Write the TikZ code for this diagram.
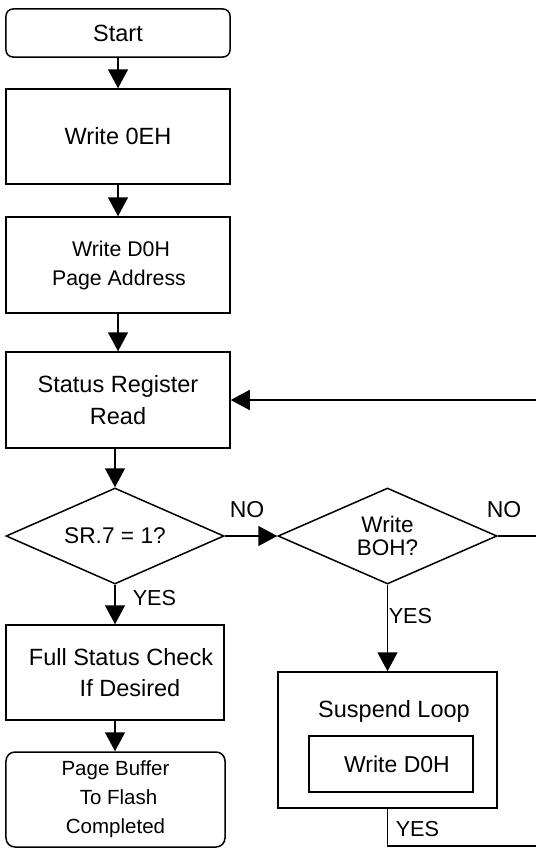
\documentclass[tikz,border=0pt]{standalone}
\usepackage{fontspec}
\setmainfont{Liberation Sans}
\usetikzlibrary{arrows.meta,shapes.geometric,calc}
\newcommand\myfs[2]{\fontsize{#1bp}{#2bp}\selectfont}
\begin{document}
\begin{tikzpicture}[x=1bp,y=-1bp, line width=1.5bp,
  box/.style={draw, rectangle, inner sep=0pt, align=center},
  term/.style={box, rounded corners=7bp},
  dec/.style={draw, diamond, aspect=2.28, inner sep=0pt, align=center, minimum width=218bp, minimum height=96bp},
  flow/.style={-{Triangle[width=20bp,length=19bp]}},
  lbl/.style={inner sep=0pt, font=\myfs{23}{27}},
]
\useasboundingbox (0,0) rectangle (536,848);
\clip (0,0) rectangle (536,848);

% left column
\node[term, minimum width=224bp, minimum height=48bp, font=\myfs{23.5}{28}] (start) at (118,33) {Start};
\node[box, minimum width=224bp, minimum height=95bp, font=\myfs{23.5}{28}] (w0e) at (118,136.5) {Write 0EH};
\node[box, minimum width=224bp, minimum height=96bp, font=\myfs{21.3}{29}] (w0d) at (118,265) {\hspace*{6bp}Write D0H\\\hspace*{2bp}Page Address};
\node[box, minimum width=224bp, minimum height=96bp, font=\myfs{23.5}{32}] (sr) at (118,400) {Status Register\\Read};
\node[dec, font=\myfs{22.7}{27}] (d1) at (115,536) {SR.7 = 1?};
\node[box, minimum width=218bp, minimum height=95bp, font=\myfs{23.5}{31}] (fsc) at (115,672.5) {\hspace*{12bp}Full Status Check\\\hspace*{30bp}If Desired};
\node[term, rounded corners=9bp, minimum width=219bp, minimum height=95bp, font=\myfs{20.5}{29}] (pb) at (115.5,799.5) {Page Buffer\\\hspace*{6bp}To Flash\\Completed};

% right column
\node[dec, minimum width=219bp, font=\myfs{22.5}{23}] (d2) at (387.5,536) {Write\\BOH?};
\node[box, minimum width=219bp, minimum height=136bp] (susp) at (387.5,740) {};
\node[inner sep=0pt, font=\myfs{23.5}{28}] (suspt) at (394,711) {Suspend Loop};
\node[box, minimum width=164bp, minimum height=56bp, font=\myfs{23}{28}] (wd) at (391,764) {\hspace*{12bp}Write D0H};

% off-page loop corners
\coordinate (bot) at (548,846);
\coordinate (rtop) at (548,400);

% connectors
\draw[flow] (start) -- (w0e);
\draw[flow] (w0e) -- (w0d);
\draw[flow] (w0d) -- (sr);
\draw[flow] (sr.south -| d1.north) -- (d1.north);
\draw[flow] (d1.east) -- (d2.west);
\draw[flow] (d1.south) -- (fsc.north);
\draw[flow] (fsc.south) -- (fsc.south |- pb.north);
\draw[flow] (d2.south) -- (susp.north);
\draw[flow] (susp.south) |- (bot) -- (rtop) -- (sr.east);
\draw (d2.east) -- (d2.east -| bot);

% labels
\node[lbl] (no1) at (247,510) {NO};
\node[lbl] (no2) at (504,510) {NO};
\node[lbl, font=\myfs{21.7}{26}, anchor=west] (yes1) at (132,598) {YES};
\node[lbl, font=\myfs{21.7}{26}, anchor=west] (yes2) at (388,616) {YES};
\node[lbl, font=\myfs{21.7}{26}, anchor=west] (yes3) at (395,829) {YES};
\end{tikzpicture}
\end{document}
